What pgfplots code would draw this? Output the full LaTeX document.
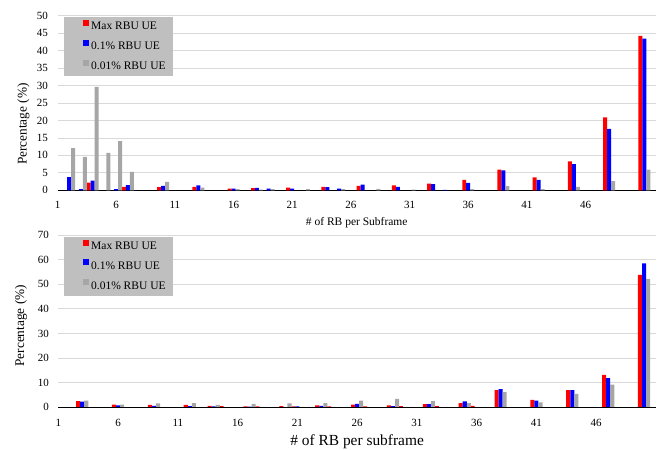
\documentclass[border=0pt]{standalone}
\usepackage{pgfplots}
\pgfplotsset{compat=1.18}
\usepackage{fontspec}
\setmainfont{Liberation Serif}
\definecolor{myred}{RGB}{255,0,0}
\definecolor{myblue}{RGB}{0,0,255}
\definecolor{mygray}{RGB}{166,166,166}
\definecolor{leggray}{RGB}{191,191,191}
\definecolor{gridgray}{RGB}{217,217,217}

\pgfplotsset{
  mybars/.style={
    scale only axis,
    ybar, bar width=0.34,
    xmin=1,
    xtick={1,6,...,46},
    ymin=0,
    axis x line*=bottom, axis y line*=left,
    y axis line style={draw=none},
    x axis line style={black, line width=0.8pt, -},
    major tick length=0pt,
    ymajorgrids, grid style={gridgray, line width=0.8pt},
    tick label style={font=\fontsize{11}{13}\selectfont},
    /pgf/number format/assume math mode=true,
    yticklabel style={xshift=-6pt},
    xticklabel style={anchor=center},
    legend cell align=left,
    legend style={draw=none, fill=leggray, inner xsep=5pt, inner ysep=3pt,
      font=\fontsize{11.5}{13}\selectfont, anchor=north west,
      row sep=6.5pt},
    legend image code/.code={\path (0pt,0pt); \fill[##1] (14pt,0.8pt) rectangle (20pt,6.8pt);},
  },
  redbar/.style={fill=myred, draw=none, bar shift=-0.34},
  bluebar/.style={fill=myblue, draw=none, bar shift=0},
  graybar/.style={fill=mygray, draw=none, bar shift=0.34},
}

\begin{document}
\begin{tikzpicture}
\useasboundingbox (0pt,0pt) rectangle (665pt,450pt);

% ---------- top chart ----------
\begin{axis}[mybars,
  at={(57.5pt,259.7pt)}, anchor=south west,
  width=598.5pt, height=174.6pt,
  xmax=52, ymax=50, ytick={0,5,...,50},
  xticklabel style={yshift=-15pt},
  legend style={at={(rel axis cs:0.0109,0.994)}},
  xlabel={\# of RB per Subframe},
  xlabel style={font=\fontsize{11.5}{13}\selectfont, at={(axis description cs:0.5,-0.187)}, anchor=center},
  ylabel={Percentage (\%)},
  ylabel style={font=\fontsize{13.3}{15}\selectfont, at={(axis description cs:-0.0571,0.379)}, anchor=center, rotate=0},
]
\addplot[redbar] coordinates {(4,2.2) (7,1.0) (10,0.9) (13,1.0) (16,0.5) (18,0.6) (21,0.8) (24,1.0) (27,1.3) (30,1.4) (33,1.9) (36,2.95) (39,5.9) (42,3.7) (45,8.3) (48,20.9) (51,44.2)};
\addplot[bluebar] coordinates {(2,3.8) (3,0.3) (4,2.8) (6,0.35) (7,1.45) (10,1.3) (13,1.4) (16,0.5) (18,0.7) (19,0.45) (21,0.45) (24,0.9) (25,0.45) (27,1.6) (30,0.95) (33,1.8) (34,0.12) (36,2.1) (39,5.7) (42,2.95) (45,7.5) (48,17.6) (51,43.4)};
\addplot[graybar] coordinates {(2,12.1) (3,9.6) (4,29.6) (5,10.7) (6,14.1) (7,5.3) (10,2.4) (13,0.8) (16,0.35) (18,0.2) (19,0.3) (22,0.3) (25,0.35) (28,0.4) (31,0.2) (36,0.35) (39,1.2) (42,0.35) (45,0.95) (48,2.6) (51,5.9)};
\legend{Max RBU UE, 0.1\% RBU UE, 0.01\% RBU UE}
\end{axis}

% ---------- bottom chart ----------
\begin{axis}[mybars,
  at={(58.3pt,43pt)}, anchor=south west,
  width=597.7pt, height=171.7pt,
  xmax=51, ymax=70, ytick={0,10,...,70},
  xticklabel style={yshift=-16pt},
  legend style={at={(rel axis cs:0.0095,0.994)}},
  xlabel={\# of RB per subframe},
  xlabel style={font=\fontsize{15.4}{17}\selectfont, at={(axis description cs:0.5,-0.204)}, anchor=center},
  ylabel={Percentage (\%)},
  ylabel style={font=\fontsize{13.3}{15}\selectfont, at={(axis description cs:-0.0627,0.473)}, anchor=center, rotate=0},
]
\addplot[redbar] coordinates {(3,2.4) (6,1.0) (9,0.9) (12,0.9) (14,0.5) (15,0.4) (17,0.3) (18,0.3) (20,0.35) (21,0.3) (23,0.7) (24,0.3) (26,1.0) (27,0.3) (29,0.7) (30,0.4) (32,1.2) (33,0.4) (35,1.6) (36,0.5) (38,6.9) (41,2.9) (44,6.9) (47,13.1) (50,53.9)};
\addplot[bluebar] coordinates {(3,2.2) (6,0.7) (9,0.5) (12,0.4) (14,0.3) (17,0.2) (21,0.3) (23,0.5) (26,1.3) (29,0.4) (32,1.2) (35,2.3) (38,7.3) (41,2.6) (44,6.9) (47,11.8) (50,58.6)};
\addplot[graybar] coordinates {(3,2.6) (6,1.0) (9,1.5) (12,1.6) (14,0.9) (17,1.2) (20,1.5) (23,1.6) (26,2.6) (29,3.3) (32,2.4) (35,1.6) (38,6.1) (41,1.9) (44,5.3) (47,9.1) (50,52.2)};
\legend{Max RBU UE, 0.1\% RBU UE, 0.01\% RBU UE}
\end{axis}
\end{tikzpicture}
\end{document}
